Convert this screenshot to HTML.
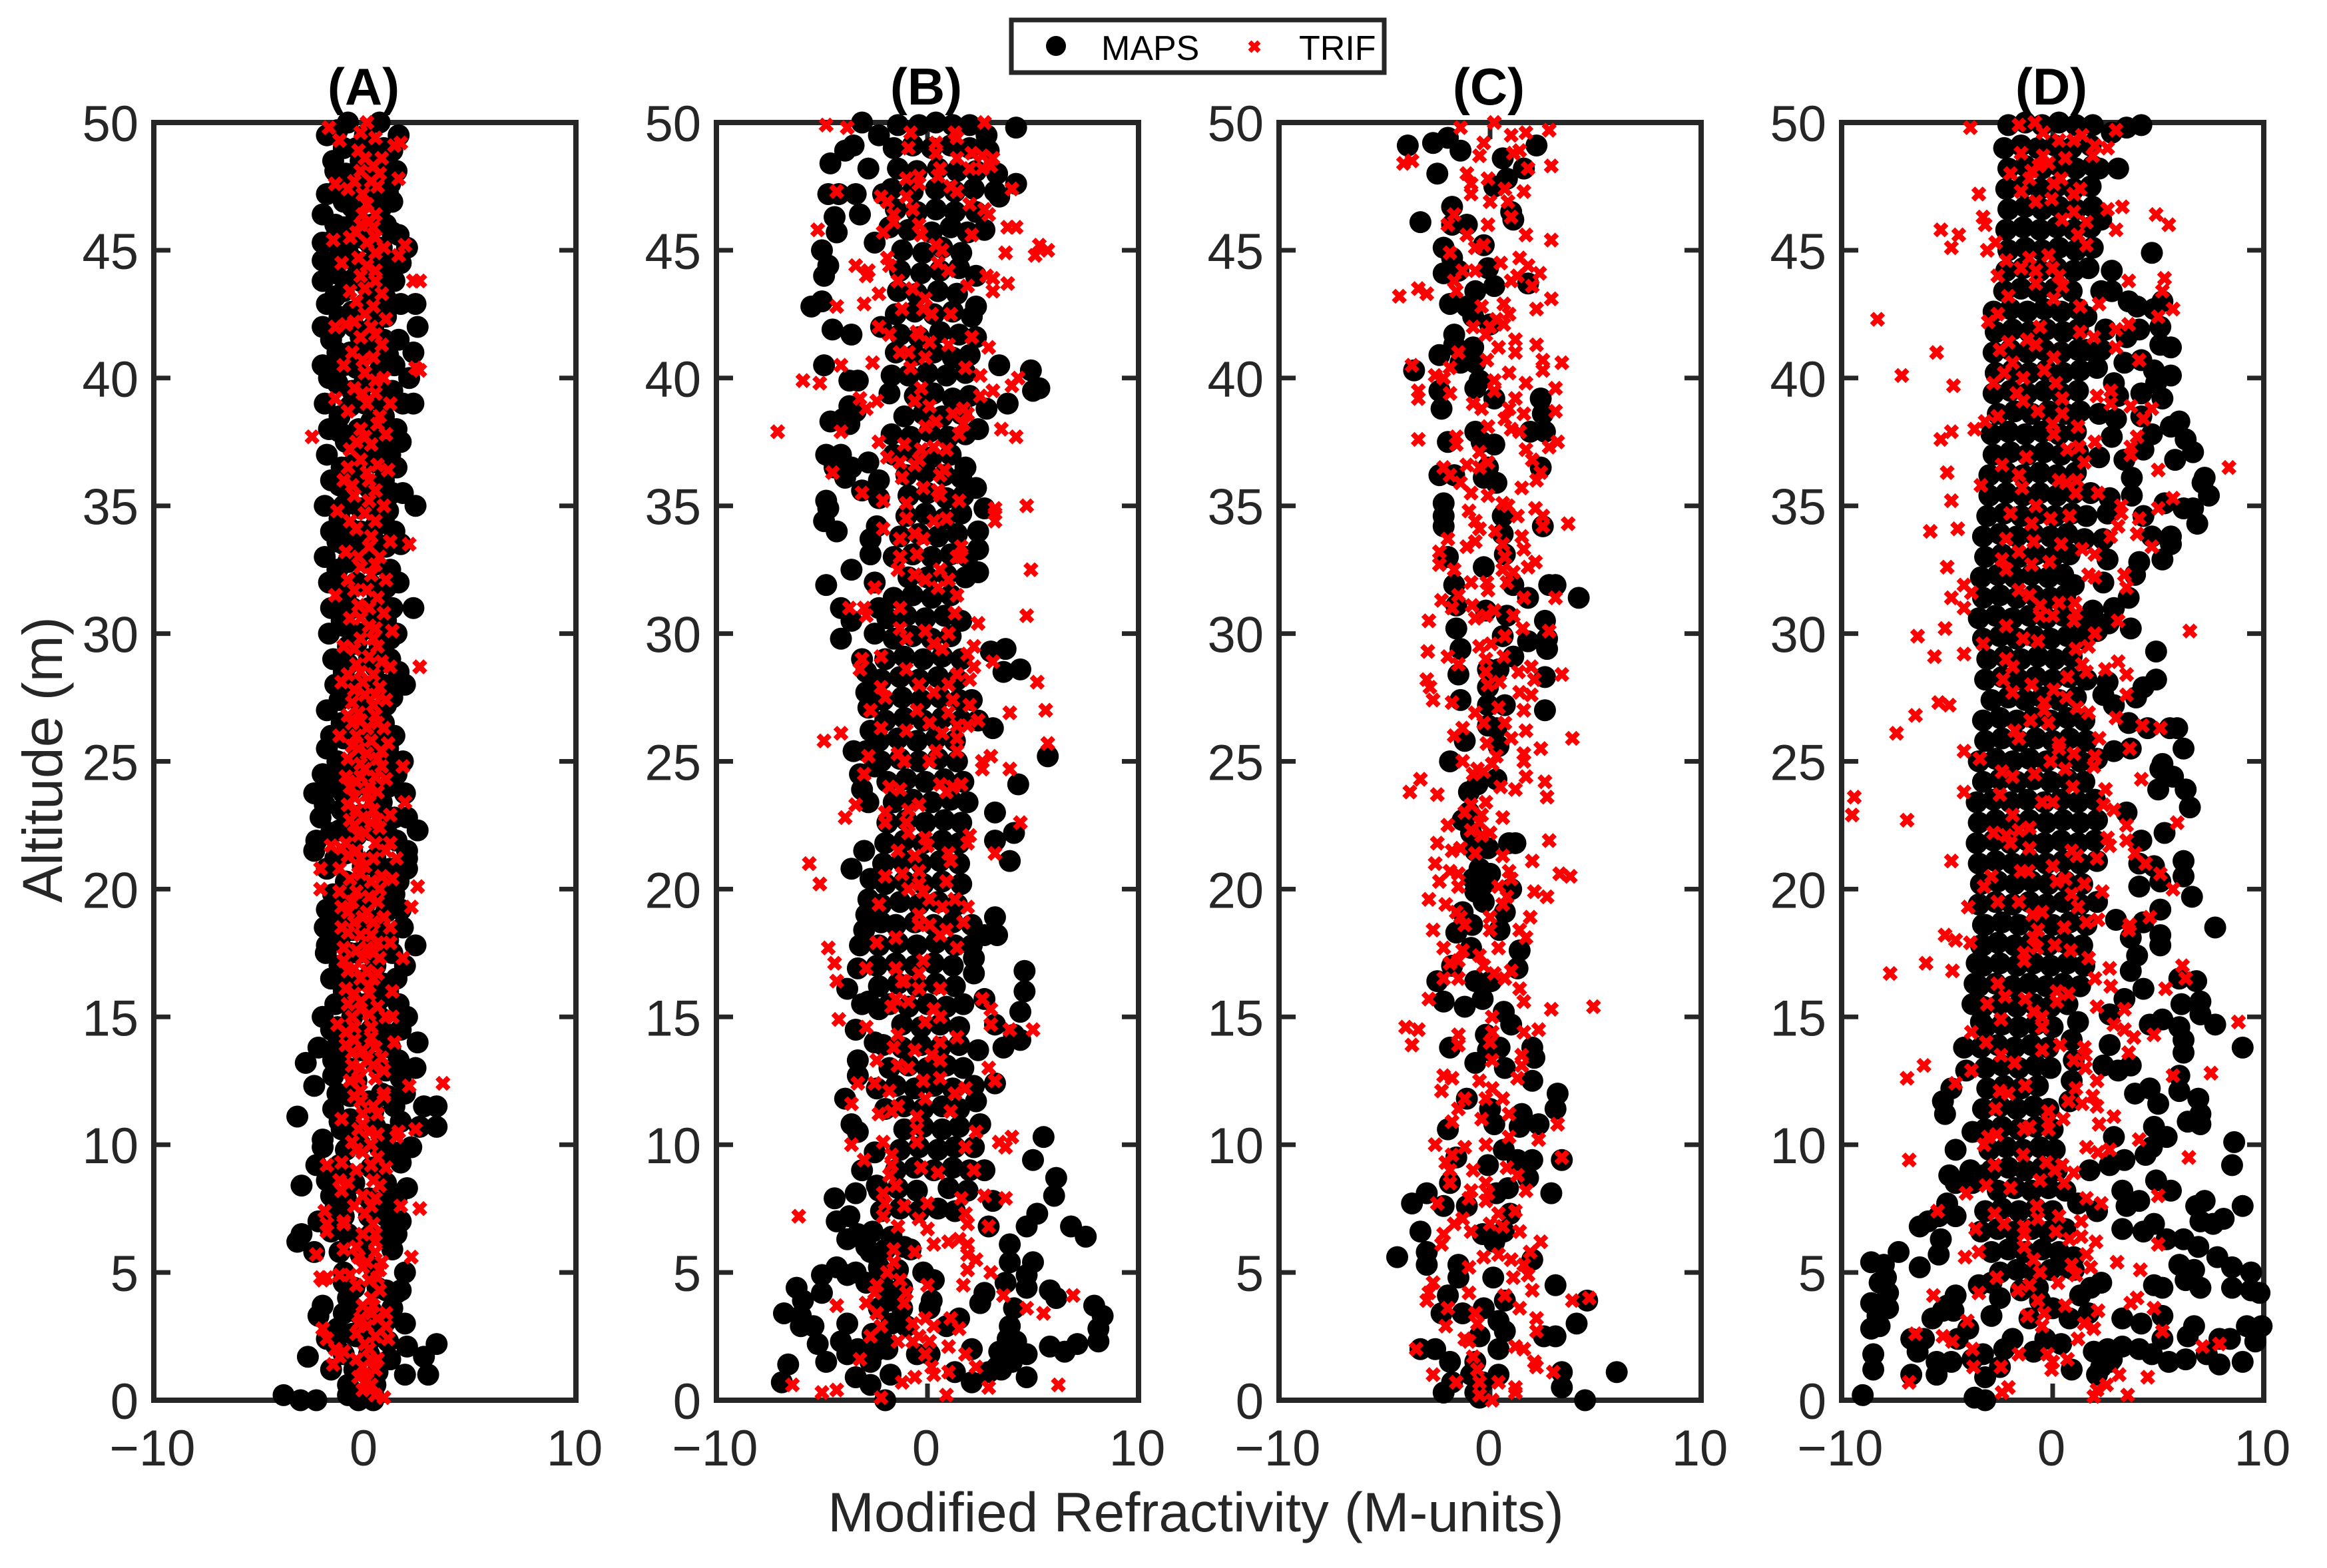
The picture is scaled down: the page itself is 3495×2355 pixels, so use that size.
<!DOCTYPE html>
<html lang="en">
<head>
<meta charset="utf-8">
<title>Modified Refractivity vs Altitude</title>
<style>
html,body{margin:0;padding:0;background:#fff;}
svg{display:block;font-family:"Liberation Sans",Arial,sans-serif;}
</style>
</head>
<body>
<svg id="chart" xmlns="http://www.w3.org/2000/svg" width="3495" height="2355" viewBox="0 0 3495 2355">
<defs><clipPath id="title-clip"><rect x="0" y="94" width="3495" height="100"/></clipPath></defs>
<rect x="0" y="0" width="3495" height="2355" fill="#fff"/>
<g id="plots"></g>
<g clip-path="url(#title-clip)" font-size="78" font-weight="bold" fill="#000" text-anchor="middle">
<text x="546" y="157">(A)</text>
<text x="1391" y="157">(B)</text>
<text x="2236" y="157">(C)</text>
<text x="3081" y="157">(D)</text>
</g>
<text font-size="84" fill="#262626" text-anchor="middle" transform="translate(93,1141) rotate(-90)">Altitude (m)</text>
<text font-size="83.6" fill="#262626" text-anchor="middle" x="1796" y="2300">Modified Refractivity (M-units)</text>
<g>
<rect x="1519" y="30" width="560" height="79" fill="#fff" stroke="#262626" stroke-width="7"/>
<circle cx="1586" cy="69" r="15" fill="#000"/>
<text x="1654" y="90" font-size="52" fill="#000">MAPS</text>
<path d="M1877,63L1891,77M1877,77L1891,63" stroke="#f00" stroke-width="7" fill="none"/>
<text x="1951" y="90" font-size="52" fill="#000">TRIF</text>
</g>
</svg>
<script>
// Each series is a flat list of readings: refractivity, altitude, refractivity, altitude, ...
const xTickValues=[-10,0,10];
const xTickLabels=["\u221210","0","10"];
const yTickValues=[0,5,10,15,20,25,30,35,40,45,50];
const yTickLabels=["0","5","10","15","20","25","30","35","40","45","50"];

const mapsA=[-0.8,50,0.7,50,-1.8,49.5,0,49.5,1.6,49.5,-1,49,0.9,49,-1.5,48.5,-0.2,48.5,0.7,48.5,-1.4,48.1,1.5,48.1,-0.8,47.6,0.4,47.6,1.2,47.6,-1.8,47.2,-0.3,47.2,1.1,47.2,-1,46.9,0.5,46.9,1.3,46.9,-2,46.4,-0.4,46.4,-1.4,46,0.3,46,1,46,-0.7,45.7,1.3,45.7,-2,45.3,0.2,45.3,-1.2,45.1,0.8,45.1,2,45.1,-2,44.6,-0.5,44.6,1.1,44.6,0.3,44.5,1.7,44.5,-1.4,44.1,0.9,44.1,-2,43.8,-0.2,43.8,1.4,43.8,-1,43.4,0.4,43.4,-1.8,42.9,0,42.9,1.7,42.9,2.4,42.9,-1.2,42.4,1,42.4,-2,42,-0.5,42,0.4,42,2.5,42,-1.6,41.5,0.9,41.5,1.6,41.5,-0.7,41,0.2,41,2.3,41,-2,40.5,-1,40.5,1.4,40.5,-1.7,40,0.5,40,2.1,40,-0.6,39.5,1.3,39.5,-1.9,39,0,39,1.8,39,2.3,39,-1.2,38.5,0.9,38.5,-1.7,38,-0.3,38,1.5,38,-0.9,37.5,0.5,37.5,1.7,37.5,-1.8,37,0.2,37,1.2,37,-1.1,36.5,1.5,36.5,-1.6,36,-0.3,36,0.9,36,-0.8,35.5,1.3,35.5,1.8,35.5,-1.9,35,0.3,35,2.4,35,-1.2,34.5,0.9,34.5,-1.6,34,-0.2,34,1.4,34,-1,33.5,0.6,33.5,1.7,33.5,-1.9,33,0.1,33,-1.3,32.5,1.2,32.5,-1.7,32,-0.4,32,1.6,32,-0.9,31.5,0.6,31.5,-1.6,31,0.2,31,1.3,31,2.3,31,-1.1,30.5,1,30.5,-1.7,30,-0.3,30,1.5,30,-0.8,29.5,0.7,29.5,-1.5,29,0.2,29,1.2,29,-1,28.5,1.6,28.5,-1.4,28,-0.2,28,0.9,28,1.9,28,-0.7,27.5,1.3,27.5,-1.8,27,0.3,27,-1.1,26.5,0.9,26.5,-1.6,26,-0.3,26,1.4,26,-1.8,25.5,0.4,25.5,1.1,25.5,-1.3,25,1.8,25,-2,24.5,-0.5,24.5,1.5,24.5,-1.6,24,0.2,24,1.1,24,-2.4,23.75,-1,23.75,1.9,23.75,-1.9,23.3,0.5,23.3,-2.1,22.8,-0.8,22.8,1.4,22.8,2,22.8,-1.2,22.3,0.3,22.3,2.5,22.3,-2.3,21.9,0.9,21.9,1.5,21.9,-2.4,21.5,-0.6,21.5,2,21.5,-1.4,21.2,0.5,21.2,2,21.2,-1.8,20.8,1.2,20.8,2,20.8,-0.9,20.3,1.6,20.3,-1.5,19.8,0.3,19.8,1.4,19.8,-1.8,19.2,-0.4,19.2,1.7,19.2,-1.3,18.8,0.7,18.8,-1.9,18.5,0,18.5,1.8,18.5,-1.2,18,1.1,18,-1.8,17.8,0.2,17.8,2.4,17.8,-1.85,17.5,-0.7,17.5,1.3,17.5,-1.2,17,0.5,17,1.9,17,-1.6,16.5,0.1,16.5,1.5,16.5,-1,16,1.1,16,-1.4,15.5,0,15.5,1.6,15.5,-2,15,-0.6,15,0.7,15,2,15,-1.6,14.5,0.3,14.5,1.7,14.5,-2.2,13.8,-1,13.8,1.2,13.8,2.5,14,-2.8,13.2,-1.5,13.3,0.5,13.2,2.4,13,1.6,13.3,-2.4,12.3,-1.5,12.7,-0.4,12.5,1.7,12.6,-1.3,12,0.8,12,1.9,12,-3.2,11.1,-1.5,11.4,0.4,11.3,1.4,11.5,2.8,11.5,3.4,11.5,-1.2,10.9,1.7,10.9,2.6,10.7,3.4,10.7,-2,10.2,-0.5,10.4,1,10.4,2.2,9.9,-2,9.9,-0.9,9.8,1.4,9.7,-2.3,9.2,-1.2,9.2,0.3,9.1,1.7,9.3,-3,8.4,-1.8,8.6,-0.5,8.5,1,8.5,2,8.3,-1.6,8,0.2,7.9,1.5,7.9,-2.2,7,-1,7.2,1,7.2,1.7,7,-3.2,6.2,-3,6.5,-1.6,6.6,0.3,6.5,1.5,6.5,-2.4,5.8,-1.2,5.8,1.3,5.9,-0.2,5.7,-1,5,0.4,5.2,1.9,5,-1,4.6,1.7,4.3,0.6,4.4,-0.8,4,1.5,4.2,-2,3.7,-1,3.4,0.3,3.5,1.3,3.6,-2.2,3.3,-1.3,2.8,0.5,2.9,1.9,3,-1.8,2.4,-0.4,2.5,1.1,2.3,2,2.1,3.4,2.2,-2.7,1.7,-1,1.8,0.2,1.8,2.8,1.7,1.2,1.6,-1.6,1.2,-0.5,1.2,0.6,1.1,1.9,1,3,1,-0.8,0.6,0.5,0.6,-3.85,0.2,-0.8,0.2,0.4,0.2,-3.05,0,-2.3,0,-0.3,0,0.4,0,-1.3,49.7,-0.4,49,0.3,48.8,1.3,48.9,-0.9,48,0.1,47.9,0.9,47.8,-1.2,47.5,-0.6,46.7,0.8,46.7,-1,45.9,-0.2,45.5,1.6,45.6,-1.5,45.4,-0.8,44.9,0.6,44.8,-1.5,44.4,-0.5,43.9,0.5,43.7,-1.4,43.2,1,43.1,-0.6,42.6,0.7,42.4,-1.4,41.9,-0.2,41.6,0.6,41.3,-1.3,41,1.1,40.9,-0.4,40.4,0.7,40.3,-1.3,39.8,-0.1,39.7,1,39.5,-0.7,38.9,0.7,39.1,-1.2,37.9,0.3,38.3,1,38.1,-0.4,37.4,1,37.2,-0.6,36.6,0.5,36.7,-1.2,35.8,0.2,35.7,1,35.5,-1,35,-0.2,34.9,1.1,34.8,-0.7,34.1,0.5,34.2,-1.3,33.6,-0.2,33.3,1,33.4,-0.8,32.8,0.5,32.7,-1.1,31.9,0.3,31.9,1,31.8,-0.6,31,0.9,30.8,-1,30.3,0.3,30.2,-0.4,29.6,1.2,29.8,-0.8,28.8,0.5,28.7,-1,28.1,0.4,27.9,-1.2,27.4,-0.2,27.3,1,27.2,-0.5,26.6,0.4,26.4,-1,25.9,0.7,25.9,-0.3,25.2,1,24.9,-1.1,24.6,0.4,24.7,-0.6,23.9,0.8,23.4,-1.1,23.1,-0.2,22.9,0.9,22.7,-1.6,22.2,-0.4,22.1,1.1,22.1,-0.9,21.4,-0.1,20.9,0.7,20.7,-0.4,20.2,0.9,19.9,-1,19.6,0,19.4,1,19.1,-0.6,18.4,0.6,18.2,-0.3,17.5,0.6,17.6,-1.2,16.4,-0.4,16.4,0.9,16.3,-0.6,15.7,0.7,15.7,-1.3,14.6,-0.4,14.3,0.9,14.4,-1.3,13.9,-0.2,13.7,-0.8,13,1,12.9,-0.7,11.9,0.2,11.7,1.1,11.9,-0.7,11,0.5,10.7,-1.1,10.6,-0.2,10,0.7,9.9,-0.9,8.9,0.7,9.2,-0.9,7.9,0.9,7.8,-1.4,7.5,0.2,7.2,-0.8,6.5,-0.2,6.3,0.9,6.4,-0.5,4.4,1,4.3,-0.3,3.4,1,3.1,-0.6,2.6,0.3,2.4,-1.4,2.2];
const trifA=[-1.7,49.8,0.1,50,-0.2,49.6,0.5,49.4,-1.2,49.3,1.7,49.2,1.4,49.1,-0.3,48.9,0,48.6,0.8,48.6,0.4,48.3,-0.2,48.1,0.7,48,-0.5,47.7,0.3,47.7,1.6,47.8,-1.4,47.6,-0.8,47.4,0.6,47.5,-0.1,47.2,0.1,46.8,-0.1,46.4,0.5,46.4,-0.2,46,0.4,45.9,-0.7,45.5,0.5,45.5,-1.5,45.4,1.9,45.2,0.9,45.1,0.5,44.9,1.6,44.8,-1.1,44.5,0.1,44.4,-0.2,44,0.5,43.8,2.3,43.8,2.6,43.8,-0.7,43.4,0.8,43.3,-0.4,43,0.4,42.8,0,42.5,1,42.3,-1.4,42,-0.9,42.1,0.3,42,-0.2,41.6,0.8,41.3,-0.6,41,0.4,40.8,2.4,40.4,-1,40.5,0,40.2,2.6,40.3,0.9,40,-0.5,39.6,0.5,39.4,-1.4,39.2,0.1,39,1.2,39,-0.8,38.7,0.7,38.5,-2.5,37.7,-0.2,38,1,37.8,0.3,37.4,-0.7,37.2,-0.2,36.8,0.6,36.6,1.1,36.4,-1,36,0.2,36,0.5,35.6,-0.5,35.4,0.9,35,-1.3,34.8,0,34.7,0.5,34.4,-0.4,34.1,2.1,33.5,1.2,33.6,0.2,33.4,-0.9,33.2,0.7,33,-0.2,32.6,0.3,32.3,-0.8,32.1,1,32.1,0.1,31.7,-1.4,31.5,0.6,31.4,-0.3,31.1,0.9,30.8,-0.7,30.6,0.2,30.3,1.3,30.1,-0.2,29.8,0.6,29.5,-1,29.5,0.2,29.1,2.6,28.7,1.2,28.7,-0.4,28.8,-0.8,28.4,0.4,28.4,-1.1,28.1,-0.1,28.1,0.7,27.9,1,27.4,0,27.6,-0.6,27.3,0.4,27.2,-0.3,26.9,0.5,26.8,-0.6,26.5,0.1,26.3,0.9,26.3,-1.2,26,-0.4,26,0.3,25.8,1.1,25.7,-0.3,25.5,0.1,25.3,-0.8,25.1,0.6,25.1,-0.2,24.9,0.8,24.8,1.8,24.8,-0.9,24.4,-0.2,24.4,0.5,24.4,1,24.3,-0.7,24,0.2,24,-0.5,23.6,0.1,23.7,1.9,23.4,-0.4,23.1,0.4,23.1,1.2,22.9,-0.1,22.8,0.3,22.6,-0.5,22.5,0.7,22.4,0,22.2,-1.6,21.7,-0.9,21.8,1.2,21.8,-0.8,21.3,1,21.5,-0.2,21.2,0,20.9,1.5,21.2,-1.2,20.8,-0.3,20.9,-2.1,20.8,0.8,20.5,-0.2,20.6,1.3,20.4,-2.1,20,2.5,20.1,-1.2,19.9,-0.4,19.9,0.2,19.7,-1.1,19.3,2.2,19.3,-0.8,19.1,0.1,19.1,0.9,18.9,-0.5,18.7,0.4,18.7,-1.1,18.5,1.2,18.5,-0.2,18.2,0.3,18.2,1.2,17.9,-1,17.7,0.1,17.7,1.8,17.3,-1,17.2,-0.1,17.3,0.7,17.3,-0.8,16.8,0.1,16.8,-0.2,16.5,0.4,16.5,-0.9,16.1,1.3,16,-0.5,15.9,0.2,15.9,-0.8,15.5,-0.2,15.6,-0.6,15,0.2,15.1,1,15,1.3,15,-1.3,14.7,-0.5,14.6,0.3,14.6,-0.5,14.1,1.4,14,-0.6,13.6,0.1,13.3,0.8,13.4,-0.6,13.1,-0.2,13,0.4,13.1,0.9,12.9,-0.7,12.5,0.5,12.6,2.1,12.3,3.7,12.4,-0.2,12.1,0.9,12,-0.2,11.7,0.9,11.9,-0.1,11.2,0.6,11.2,-1.1,11,-0.1,10.8,0.2,10.5,2.4,10.6,1.6,10.5,-0.6,10.1,0.3,10,1.5,10.3,-0.1,9.7,0.6,9.5,-1.8,9.2,-1.1,9.3,1,9.1,-1.2,8.6,-1.1,8.2,-0.8,8.5,0.7,8.4,0.5,7.9,1.7,7.6,2.6,7.5,-1.9,7.4,-1.8,6.9,-1,7,0,7.3,-1,6.9,0.4,6.9,-0.1,6.5,-1.8,6.6,0.5,6.2,-1,5.9,0.5,5.8,-0.3,5.6,-2.3,5.7,2.2,5.6,0.8,5.4,-0.1,5.2,0.7,5.1,-2.1,4.8,-1.8,4.8,-0.4,4.5,0.7,4.3,-2,4.7,-1.2,4.9,0.6,4.8,0.3,4,-0.1,3.7,-0.2,3.2,0.3,3.4,1,3.4,-0.3,3,0.6,3.2,1,2.9,-2,2.8,-0.4,2.6,0.5,2.5,1.1,2.4,-1.8,2.4,-1.4,2,-1,1.9,0,2.2,-1.2,1.7,0.6,1.6,-1.5,1.4,-0.1,1.3,0.5,1.2,0.1,0.8,-0.1,0.4,0.5,0.2,0.9,0.1,0.2,46.1,-0.4,45.7,0.1,45.3,-0.3,44.7,0.5,44.2,0,43.5,-0.5,42.2,0.5,41.7,-0.1,40.7,0.5,39.9,-0.1,39.4,0.6,38.2,0,37.7,-0.4,37.5,-0.8,36.5,0.1,36.3,-0.6,35.8,0.2,35.2,-0.7,34.4,0.3,33.8,-0.3,33,0.5,32.7,-0.5,31.7,0.2,31,-0.2,30.6,0.5,30.2,-0.5,29.4,0.4,29.8,-0.2,28.5,0.8,28.9,-0.5,27.8,0.5,27.6,-0.8,26.8,-0.2,26.6,0.6,26.5,-0.6,25.6,0.8,25.4,0,24.7,-0.4,24.2,0.6,23.8,-0.8,23.3,0.2,23.4,-0.7,22.7,0.6,22.7,-0.3,22.1,0.5,21.8,-1.1,21.6,-0.4,21.5,0.4,21.2,-0.7,20.4,0.3,20.3,0.7,20,-0.6,19.5,0.6,19.5,-0.1,18.9,-0.8,18.3,0.6,17.9,-0.4,17.6,0.4,17.5,-0.5,16.9,0.6,16.7,0.2,16.2,-0.2,15.3,0.6,15.4,-0.9,14.4,0.3,14.2,-0.9,13.9,-0.1,13.7,0.5,13.8,-0.3,12.6,-0.5,11.9,0.4,11.5,-0.3,10.6,0.6,10.4,-0.4,9.8,0.3,9.2,-0.4,9,0.4,8.6,-0.1,8,0.3,7.6,-0.5,7.6,0.5,6.5,-0.4,6,0.1,5.4,-0.7,4.9,0.2,4.7,0.4,3.7,0.1,2.9,0.2,2,0.3,1.6,-0.4,1.6,0,1,0.3,0.6,-0.3,0.9];

const mapsB=[4.2,49.8,-3.1,50,-2.3,49.5,-3.5,49.1,-3.9,48.9,-4.6,48.4,-2.8,48.2,-4.7,47.2,-4.2,47.2,-3.4,47.2,-2.1,47.2,4.2,47.6,3.4,47.1,-4.4,46.3,-3.2,46.4,-4.3,45.7,-2.5,45.3,2.7,45.8,-5,45,-4.7,44.4,-4.9,44,-5.5,42.8,-5,43,-4.5,41.9,-3.6,41.7,-2.2,42,2.3,42.8,2.1,42.4,2.3,41.6,-4.9,40.5,3.4,40.5,4.9,40.3,5.3,39.6,5,39.5,3.8,39,-3.7,39.9,-3.3,39.9,-1.8,39.4,-1.7,40.1,-3.7,38.9,-3.4,38.7,-4.6,38.3,-4,38.4,-3.7,38.2,2.8,38.8,2.4,38,-4.8,37,-4.1,37,-4.4,36.5,-3.6,36.5,-3.9,36.1,-2.8,36.7,-3.1,35.6,-2.3,36,-2.3,35.3,1.8,36.5,-4.8,35.2,-4.7,34.9,-4.9,34.4,-4.3,34,2.7,34.9,2.3,35.7,-2.4,34.2,-2.7,33.7,-2.7,33.1,2.4,34,2.4,33.3,2.4,32.4,-3.6,32.5,-4.8,31.9,-2.5,32,-4.1,31,-3.6,30.5,-4.1,29.8,-2.3,31,-2.5,30,3,29.3,3.7,29.4,3.6,28.5,4.4,28.6,-3.1,29,-2.9,28.5,-2.9,27.7,-2.8,27.1,2.1,27.4,3.1,26.3,2.4,26.6,-2.7,26.2,-3.5,25.4,5.7,25.2,-2.9,25.4,-3.2,24.5,-2.5,24.8,-3.1,23.9,-2.8,23.4,4.3,24.1,3.2,23,4.1,22.2,3.2,21.9,3.9,21.1,-3,21.5,-3.6,20.8,-2.7,20.4,-2.8,19.6,-2.9,19,-2.2,18.7,-3,18.4,-3.2,17.8,-3.3,16.9,3.2,18.9,3.3,18.2,2.7,18.2,4.6,16.8,4.6,16,4.4,15.2,2.2,17.3,2.2,16.7,2.7,15.7,3.2,14.7,-3.8,16.1,-3.1,15.5,-2.3,15.3,-3.4,14.5,-2.5,14,-3.3,13.3,-3.3,12.7,4.1,14.3,4.4,14.1,3.6,13.8,2.4,13.7,3.2,12.4,2.2,12.3,2.3,11.7,-3.9,11.8,-3.6,10.8,-3.3,10.5,2.5,10.8,5.5,10.3,5,9.4,2.2,9.9,-2.5,9.7,-3.1,9,2.7,9,6.1,8.7,6,8,-2.4,8.4,-3.4,8.1,-4.4,7.9,3.1,7.8,5.2,7.3,4.7,6.8,6.8,6.8,7.5,6.4,-4.3,7,-3.7,7.2,-3.8,6.3,-3.3,6.5,-2.6,6.6,2.9,6.8,3.9,6.1,3.9,5.4,5,5.4,4.7,4.9,4.7,4.4,-2.7,5.8,-4.3,5.2,-5,4.9,-6.2,4.4,-5,4.2,-5.9,3.9,-6.8,3.4,-6,3.3,-6,2.9,-5.4,2.9,-5.2,2.2,-3.8,3,-4.1,2.3,-3.8,4.9,-3.4,5,3.7,4.6,2.7,4.2,2.5,3.8,4.1,3.6,5.8,4.3,6.1,4,7.9,3.7,8.3,3.3,8.1,2.8,8.1,2.3,7.1,2.2,6.5,1.9,5.8,2.1,3.9,2.9,4.2,2.3,3.4,1.9,4.2,1.9,4.7,1.8,4.7,0.9,3.5,1.2,2.9,1.1,2.1,0.7,1.3,1.1,2.1,2,1.5,3.2,0.9,2.9,-6.6,1.4,-6.9,0.7,-4.8,1.5,-3.8,1.8,-3.3,2,-2.7,1.5,-3.4,0.9,-2.7,0.6,-1.75,1,-2,0,-2.1,2.3,-2.6,2.6,-0.5,1.8,0.1,1.8,-0.2,5,0.3,4.7,0.2,3.9,0.1,3.6,-0.8,5.9,-1.2,3.6,-1.8,3.9,-2.3,3.6,-1.7,6.4,3.6,1.6,4,1.5,3.8,2.4,3.3,1.3,-1.4,49.9,-0.4,49.9,0.4,50,1.2,49.9,2,49.9,2.8,49.5,-1.6,49,-0.7,49.1,0.2,49,1.1,49.1,2,49,2.9,48.9,-1.4,48.2,-0.5,48.1,0.5,48.2,1.4,48.1,2.3,48.1,3.3,48,-1.7,47.4,-0.7,47.3,0.4,47.4,1.3,47.3,2.2,47.4,3.2,47.3,-1.5,46.6,-0.5,46.5,0.4,46.6,1.3,46.5,2.3,46.5,-1.8,45.9,-0.9,45.8,0.2,45.7,1.1,45.9,1.9,45.7,-1.2,45,-0.2,44.9,0.7,45.1,1.6,44.9,-1.3,44.2,-0.3,44.1,0.6,44.2,1.5,44.3,2.3,44,-1.4,43.4,-0.5,43.3,0.5,43.4,1.4,43.3,-1.5,42.5,-0.6,42.6,0.3,42.5,1.2,42.6,-1.3,41.7,-0.4,41.6,0.6,41.8,1.5,41.7,-1.5,41,-0.6,40.9,0.3,41,1.2,40.8,2,40.9,-0.9,40.1,0,40.2,0.9,40.1,1.8,40.2,-0.6,39.3,0.3,39.4,1.2,39.2,2,39.3,-1.1,38.5,-0.2,38.6,0.7,38.5,1.6,38.6,-1.7,37.8,-0.8,37.7,0.1,37.9,1,37.7,1.8,37.8,-1.6,37,-0.7,37.1,0.2,36.9,1.1,37,-1,36.2,-0.1,36.3,0.8,36.2,1.6,36.1,-0.9,35.4,0,35.5,0.9,35.3,1.7,35.4,-1,34.6,-0.1,34.7,0.8,34.5,1.6,34.7,-1.3,33.8,-0.4,33.9,0.5,33.8,1.4,33.9,-1.6,33,-0.7,33.1,0.2,33,1.1,33.1,1.9,33,-0.9,32.2,0,32.2,0.9,32.3,1.8,32.2,-1.6,31.4,-0.7,31.5,0.2,31.4,1.1,31.5,-1.9,30.6,-1,30.7,-0.1,30.6,0.8,30.7,1.6,30.5,-1.6,29.8,-0.7,29.9,0.2,29.8,1.1,29.9,-2,29,-1.1,29.1,-0.2,29,0.7,29.1,1.6,29,-2.2,28.2,-1.3,28.3,-0.4,28.2,0.5,28.3,1.4,28.2,-2.1,27.4,-1.2,27.5,-0.3,27.4,0.6,27.5,1.5,27.4,-2,26.6,-1.1,26.7,-0.2,26.6,0.7,26.7,1.6,26.6,-2.3,25.8,-1.4,25.9,-0.5,25.8,0.4,25.9,1.3,25.8,-2.2,25,-1.3,25.1,-0.4,25,0.5,25.1,1.4,25,-1.9,24.2,-1,24.3,-0.1,24.2,0.8,24.3,1.7,24.2,-1.6,23.4,-0.7,23.5,0.2,23.4,1.1,23.5,1.9,23.4,-1.9,22.6,-1,22.7,-0.1,22.6,0.8,22.7,1.6,22.6,-2,21.8,-1.1,21.9,-0.2,21.8,0.7,21.9,1.5,21.8,-2.1,21,-1.2,21.1,-0.3,21,0.6,21.1,1.5,21,-2,20.2,-1.1,20.3,-0.2,20.2,0.7,20.3,1.6,20.2,-2.2,19.4,-1.3,19.5,-0.4,19.4,0.5,19.5,1.4,19.4,-1.5,18.6,-0.6,18.7,0.3,18.6,1.2,18.7,2.1,18.6,-2.3,17.8,-1.4,17.9,-0.5,17.8,0.4,17.9,1.3,17.8,2.1,17.8,-2.4,17,-1.5,17.1,-0.6,17,0.3,17.1,1.2,17,-2.3,16.2,-1.4,16.3,-0.5,16.2,0.4,16.3,1.3,16.2,-2.8,15.6,-1.8,15.5,-0.9,15.4,0,15.5,0.9,15.4,1.7,15.5,-1.2,14.7,-0.3,14.6,0.6,14.7,1.5,14.6,-2.1,13.9,-1.2,13.8,-0.3,13.9,0.6,13.8,1.5,13.9,-1.8,13,-0.9,13.1,0,13,0.9,13.1,1.7,13,-2.4,12.2,-1.5,12.3,-0.6,12.2,0.3,12.3,1.2,12.2,-2,11.4,-1.1,11.5,-0.2,11.4,0.7,11.5,1.5,11.4,-1.1,10.6,-0.2,10.7,0.7,10.6,1.5,10.7,-1.3,9.8,-0.4,9.9,0.5,9.8,1.3,9.9,-1.5,9,-0.6,9.1,0.3,9,1.2,9.1,2,9,-2.3,8.2,-1.4,8.3,-0.5,8.2,1,8.3,1.9,8.2,-2.2,7.4,-1.3,7.5,-0.4,7.4,0.5,7.5,1.3,7.4,-2.9,6,-2,5.9,-1.1,6,-2.3,5.2,-1.4,5.1,-2.1,4.5,-1.2,4.4,-2.9,4.6,-1.7,3,-1,2.9,-2.5,1.9,-1.9,2];
const trifB=[-4.8,49.9,-3.8,49.8,-0.8,49.6,1.3,49.6,2.7,50,0.4,49.2,0.4,48.8,1.4,49.4,-0.9,49,1.4,48.6,2.1,48.8,2.6,48.7,3.1,48.6,2.6,48.2,3,48.3,2,48.2,0.6,48.2,0.5,47.9,-1,47.8,-0.4,47.9,-0.4,47.6,1.1,47.5,1.4,47.3,4,47.4,-4.3,47.3,-2.2,47.1,-1.9,46.9,-1,47.1,2,46.8,2.7,46.6,2.9,46.4,-0.7,46.6,-1.6,46.4,-1.6,46.1,-0.4,46,-5.2,45.8,3.8,45.9,4.2,45.9,-2.1,45.7,-0.3,45.6,2.1,45.6,0.4,45.2,0.7,45,5.3,45.2,5.7,45,5.1,44.8,3.7,44.9,-1.9,44.7,-1.8,44.4,0.5,44.5,-3.4,44.4,-2.8,44.2,-2.9,44,1,44.2,2.8,44,3.1,43.9,-1.4,43.8,3.8,43.7,1.9,43.6,3.1,43.4,-0.7,43.5,-2.3,43.3,-0.1,43.1,-3,42.9,-4.3,42.8,-0.2,42.7,-1.2,42.7,0.2,42.5,1.1,42.5,-2.3,42,-1.8,41.7,-0.5,41.8,-0.4,41.7,0.1,41.4,1,41.3,2.1,41.6,2.9,41.2,-1.3,41,-0.9,41,-0.1,40.8,-4.1,40.5,-2.6,40.6,-0.8,40.4,1.8,40.4,-5.9,39.9,-5.1,39.8,2.5,40.1,4.3,40,4,39.7,-0.3,39.6,2.5,39.3,3.1,39.5,-3.2,39.2,-2.4,39.1,-0.6,39.1,-2.9,38.8,0.1,38.9,1.7,38.8,1.9,38.6,1.2,38.6,0.4,38.3,1.7,38.2,-0.1,38.1,-7.1,37.9,-4.1,37.9,3.5,38,4.2,37.7,1.5,37.8,-2.3,37.5,-1.1,37.4,0.3,37.3,-0.3,37.2,0.9,37.2,-1.9,36.9,-1.3,36.7,-0.4,36.8,-0.6,36.6,-4.5,36.3,-1.2,36.1,0.6,36.2,0.8,36.4,-0.2,35.7,0.5,35.6,0.6,35.4,1.5,35.2,-3.1,35.5,-2.1,35.2,-1,35.1,4.7,35,3.2,34.9,0.9,34.5,3.2,34.4,-1,34.5,0.3,34.4,-2.1,34.1,-1.3,33.7,-0.6,33.9,-0.2,33.7,3.2,34.7,1.6,33.4,-1.3,33,-0.5,33.1,1.4,33,1.6,33,0.6,32.5,-1.4,32.5,-0.6,32.3,-0.1,32.1,4.9,32.5,1,32.1,0.5,31.8,1.4,31.5,-2.5,31.8,-3.7,31,-2.9,30.7,-3,31,-1.3,31,1.3,30.8,4.7,30.7,2.4,30.4,-1.3,30.2,-0.1,30.1,1,30,-1,29.8,0.3,29.6,2.2,29.5,1.9,29.2,0.7,29.4,-3.1,29,-2.2,29.1,-3.2,28.6,3.1,28.9,2.2,28.7,1.4,28.4,-1,28.6,2,28.2,1,28,5.2,28.1,-2.2,27.9,-0.4,28,0.3,27.7,-2,27.5,1.2,27.4,2,27.2,-2.7,27,-0.5,27,1,26.9,5.6,27,3.9,26.9,0.1,26.5,1.4,26.4,2.4,26.6,1.9,26.4,-4.1,26.1,-2.2,26.3,-1,26.2,0.7,26.1,1.4,25.9,-4.9,25.8,5.7,25.7,-2.8,25.2,-1.4,25.3,-1.1,25,0.4,25.4,1.4,25.4,3,25.2,0.1,25,2.6,25,3.9,24.7,-3,24.5,-1.8,24,-1.3,23.9,0.6,24.1,1.2,24,0.9,23.8,1.6,24.1,2.6,24.7,-3.4,23.3,-0.4,23.3,-0.9,23.1,-3.9,22.8,-2,23,-2,22.6,-1,22.6,-0.9,22.2,-0.1,22,0,21.7,2,22.1,1.9,21.8,4.4,22.6,3.2,21.4,-1.4,21.5,-0.6,21.3,1,21.4,1.1,21.1,-5.6,21,-5.1,20.2,-1.2,20.6,-0.4,20.7,-0.4,20.2,0.9,20.3,-2,20.5,-0.9,20,-0.2,19.9,0.1,19.6,0.7,19.3,1.3,19.6,1.9,19.3,-2.3,19.4,-0.4,19,0.1,18.6,-0.4,18.6,-2.4,17.9,-1.5,18.1,0.6,18.2,1.4,17.7,0.9,18.4,1.7,18.7,-4.7,17.7,-4.4,17.1,-0.2,17.2,-0.4,16.7,-2.9,16.9,-1.5,16.9,-1.2,16.4,0.6,16.1,-1.1,16.4,-0.4,16.1,-4.3,16.4,-1.5,15.7,-1.7,15.4,-0.9,15.6,0.3,15.3,2.6,15.7,3,15.3,-4.2,14.9,-0.1,14.8,0.6,15,1.4,14.2,-2.9,14.6,-1.4,14.3,-1.6,13.8,-0.6,13.7,0.2,13.5,0.6,13.3,0.6,14,3.9,14.5,5,14.5,3,14.7,-2.4,13.3,-1.4,13.1,-0.9,13,2.9,13,3.2,12.5,-3.3,12.4,-2.5,12.4,0.6,12.6,-0.2,12.5,1.3,12,1.8,12.2,-1.8,12.1,-1.4,11.5,-0.1,11.8,-3.6,11.6,-2.3,11.2,-1.7,11.3,1.1,11.3,-0.5,11.1,-0.5,10.6,-0.5,10.1,2.3,10.5,4,10.3,3.4,10.1,-3.6,10,-2.1,10.1,-1.7,9.6,1.8,9.9,3.7,9.9,-1.7,9.2,-3,9.4,-0.3,9.1,0.5,8.9,-1.8,8.8,2.2,9,-1.5,8.4,-2.1,8.1,-2,7.7,-1.1,7.6,0,7.7,1.6,7.9,2.7,8,3.7,7.9,-6.1,7.2,-2.1,7.2,-1.4,6.8,-0.4,7.1,1.8,7.3,0,6.7,1.9,6.9,2.9,6.8,1,6.2,1.5,6.3,0.3,6.1,1.9,6.1,-1.6,5.9,-0.6,5.8,-1.6,5.4,1.9,5.7,2.3,5.5,1.9,5.1,-1.9,5,-2.4,4.5,-1.3,4.7,0,4.5,1.7,4.5,3,5,-2.5,4.2,-1,4.2,-4.3,3.7,-2.9,3.8,-1.1,3.8,-2.4,3.4,3.6,4.1,4.7,3.6,5.5,3.4,6.9,4.1,-2.2,2.9,-0.7,3,-0.1,3.2,1.1,3.2,1.5,2.8,-2.7,2.5,-0.7,2.3,-0.4,2.5,0.3,2.9,0.1,2.3,-1.4,2.3,1,2.1,1.8,1.8,-3.2,1.6,0.3,1,-0.1,1.8,1,1.1,2.3,1.3,2.9,0.5,-6.4,0.6,-5,0.3,-4.3,0.4,-2.2,0.1,-1.2,0.7,-0.6,0.9,0.2,1.3,0.9,0.2,6.2,0.6];

const mapsC=[-3.9,49.1,-2.7,49.2,-2,49.4,-1.4,48.9,2.2,49.1,0.6,48.6,1.6,48.2,-2.5,48,0.8,47.8,0.2,47.5,-1.8,46.7,-3.3,46.1,-1.8,46,-1.1,46,1,46.5,1.1,46.2,-2.2,45.1,-1.8,44.7,-0.3,45.2,-2.2,44.1,-1.5,44.2,-0.1,44.3,1.8,43.7,0.2,43.6,-0.7,43.4,-1.9,42.9,-1.1,42.8,0,42.1,-1.7,41.7,-0.8,42.4,-1.7,41.3,-2.4,40.9,-3.6,40.3,-1.4,40.6,-0.8,41.2,-0.7,40.6,-0.5,39.9,-0.7,39.6,-2.4,39.5,-2.3,38.8,0.2,39.2,2.4,39.2,2.5,38.6,2.6,37.9,1.9,37.9,-0.7,37.9,-2,37.5,-0.4,37.5,0.2,37.4,2.4,36.5,-2.4,36.2,-1.7,36.2,-0.1,36.5,-0.3,36.1,0.3,35.9,-2.2,35.1,-2.2,34.6,-2.2,34.2,0.6,34.6,2.5,34.2,0.6,33.9,-2,33,-0.3,32.6,0.7,33.1,-1.7,31.9,2.8,31.9,3.1,31.9,4.2,31.4,1.1,31.9,1.8,31.4,-1.6,31.1,-0.2,30.9,0.8,30.7,2.6,30.5,-1.6,30.2,1.8,29.7,2.7,29.8,2.7,29.4,-1.4,29.4,0.6,29.9,1.1,29.1,0.4,28.6,-0.1,28.6,-1.5,28.4,2.6,28.3,-0.1,27.9,-1.4,27.4,0.7,27.2,-0.1,27.2,2.6,27,-0.1,26.4,0.3,26.3,-1.2,25.8,0.4,25.6,-1.9,25,-0.6,24.1,0.3,24.3,-1,23.8,-1,23,-1.3,22.7,-0.9,22.2,0.9,21.8,1.2,21.8,-0.7,21.5,-0.1,21.6,-0.5,20.8,0,20.6,-0.8,20.4,-0.3,20.2,-0.7,19.9,1,20,-0.3,19.5,-1.3,19.1,0.7,19.1,-0.85,18.6,-1.6,18.3,0.45,18.4,1.4,17.6,-0.9,17.7,-1.8,17,1.3,16.9,-2.5,16.4,-0.7,16.4,0.05,16.4,-2.2,15.6,-1.2,15.4,-0.35,15.7,0.65,15.2,1,14.7,-0.2,14.3,-1.9,13.8,0.45,13.8,2,13.8,2.1,13.4,-0.7,13.2,-0.1,13.7,0.7,13,2,12.5,3.2,12,3.1,11.4,-1.1,11.8,-2,10.6,1.5,11.2,2.3,10.8,1.4,10.7,0,11.4,0.2,10.8,-1.6,9.5,0.65,9.8,1.3,9.4,2,9.4,3.4,9.4,-0.1,9.2,1.8,8.7,-1.9,8.5,-3,8.1,-3.7,7.7,2.9,8.1,0.85,8.3,0.3,8.1,-2.2,7.6,-1.1,7.6,0.95,7.3,-3.3,6.6,-0.35,6.5,0.65,6.6,0.2,6.2,-3,5.8,-4.4,5.6,-3,5.3,2,5.5,-1.5,5.3,-1.5,4.8,0.15,4.8,3.1,4.5,-2,4.1,4.6,3.9,0.7,3.9,-0.3,3.6,-2.3,3.4,-1.3,3.4,0.4,3.1,0.7,2.7,4.1,3,-0.5,2.5,2.55,2.5,3.1,2.5,0.4,2,-3.3,2,-2.6,2,-1.9,1.5,-0.7,1.5,3.4,1.1,6,1.1,0.4,1,-1.8,0.7,-2.2,0.3,-0.7,0.3,3.4,0.5,4.5,0,-0.35,0.7,-0.9,1,-0.5,0.1];
const trifC=[-1.4,49.8,0.2,50,1.7,49.6,2.8,49.7,-0.3,49.2,-0.5,48.7,1,49.5,1.1,48.8,1.4,48.9,-4.1,48.4,-3.7,48.5,2.9,48.3,1.8,48.2,-1.1,48,-0.9,47.6,-0.9,47.2,-0.1,47.8,0.7,47.4,1.6,47.3,0,46.9,0.85,46.9,-1.7,46.4,-2,46,1,46.3,-0.1,46,-1.1,45.6,1.7,45.6,2.9,45.4,-0.7,45.1,-1.9,44.9,-0.3,45.2,0.5,44.5,1.4,44.7,1.8,44.4,-0.7,44.2,-1.3,44.2,1.3,44,2.35,44.1,-1.7,43.8,1,43.8,2,43.6,-3.4,43.5,-3,43.3,-4.3,43.2,-1.6,43.4,2.9,43.1,-0.4,42.8,0.65,42.9,2.2,42.7,0.9,42.5,0.3,42.3,-0.8,42,0,42,0.65,42.1,-0.2,41.7,1.2,41.5,2.2,41.3,0.4,41.2,1.2,41,-1.5,41,-0.15,40.7,2.5,40.7,3.4,40.6,2.5,40.3,-3.7,40.5,-1.9,40.4,-2.6,40.1,-2.2,40,0.9,40.2,0.2,39.9,1.7,39.8,3.1,39.6,0.2,39.5,-3.4,39.5,-3.4,39.2,-1.9,39.4,1.2,39.2,-0.8,39,-0.4,38.8,1.6,38.6,3.1,38.7,0.9,38.8,0.7,38.4,-0.1,38.1,1.4,37.9,1,38,-3.4,37.6,-1.6,37.7,-1.6,37.4,3.2,37.5,2.8,37.3,1.7,37.2,-0.5,37.1,2,36.8,-1.1,36.6,-0.5,36.5,-0.1,36.7,-2.2,36.5,-1.9,36.2,2.4,36.3,2.2,36,-1.4,35.9,-0.9,35.5,1.5,35.7,-0.1,35.4,0.6,35.1,0.85,35,-1,34.8,2.15,34.9,1.3,34.6,2.5,34.6,-0.7,34.4,3.7,34.3,2.5,34.2,-0.5,34.1,0.25,34,1.5,33.8,-2,33.7,-0.7,33.6,-1.1,33.4,0.6,33.5,1.6,33.3,-2.4,33.2,-2.4,32.7,-1.7,32.5,0.7,33,2.15,32.8,1.8,32.6,0.6,32.5,1.1,32.4,-0.9,32,-0.15,32,-0.1,31.7,0.8,32,-2.3,31.3,-1.5,31.5,-1.8,31,-0.85,31.1,3.1,31.4,1.6,31.4,-0.7,30.6,-0.2,30.7,0.2,30.9,1.1,30.7,-2.9,30.5,1.55,30.2,2.8,30.1,0.7,29.9,-0.5,29.5,0.05,29.6,-2.95,29.3,-2,29.1,-1.5,28.8,0.65,29.1,-0.2,29,1.95,28.7,1.35,28.5,-0.2,28.5,3.4,28.4,-3,28.2,2.1,28.2,-2.85,27.9,0.45,28.1,-0.1,28,1.4,27.7,1.95,27.6,-2.7,27.4,-1.8,27.3,-0.7,26.9,0.4,27.1,1.6,27,-0.3,26.5,0.7,26.5,1.7,26.2,3.9,25.9,-1.7,26,-1.3,26.3,1,25.9,-0.15,25.7,2.4,25.5,1.6,25.3,0.3,25.2,-1.3,25,-0.6,24.7,0.1,24.9,1.6,25,-3.3,24.3,-3.8,23.8,-2.5,23.7,-0.8,24.5,-0.3,24.6,0.5,24,1.2,23.9,1.7,24.4,2.6,24.2,2.7,23.6,-0.9,23.3,-0.2,23.4,-1.2,23,-0.4,22.9,0.6,22.8,-2,22.5,-0.5,22.6,0,22.2,-0.9,22.3,-0.4,22.1,2.8,21.9,-2.5,21.8,-1.8,21.5,-1.4,21.6,-0.7,21.4,0.6,21.3,2,21.1,3.3,20.6,3.8,20.5,-2.6,21,-1.5,20.6,-1.9,20.7,-1.5,20.1,-2.4,20.3,0.9,20.7,1,20.4,0.4,20.1,-2.9,19.6,-2.1,19.4,-1.6,19.1,2.1,19.9,2.7,19.7,0.8,19.7,0.6,19.4,0,18.9,1.9,18.9,-2.7,18.4,-1.4,18.9,-1.2,18.6,0,18.4,1.4,18.4,1.7,18.1,-2.2,17.7,-1.3,17.6,-0.5,17.4,0.4,17.7,-1.9,17.1,-1.5,17.2,-0.3,17,0.2,16.7,1,16.8,-2.2,16.5,-1.5,16.5,0.7,16.5,1.4,16.1,1.6,15.6,-2.9,15.7,2.9,15.3,4.9,15.4,-4,14.6,-3.4,14.5,-3.7,13.9,1.6,14.4,2.3,14.5,0.1,15,0.1,14.4,0,14,-1.5,14.3,-1.5,13.9,1.5,13.5,0.1,13.3,1.5,13.1,1.3,12.6,-2.2,12.7,-1.8,12.6,-2.3,12.1,-0.5,12.5,0.1,12.2,-0.2,11.8,0.6,11.8,-1.5,11.4,-1.2,11.8,-1.8,10.9,-0.4,11,0.9,11.2,3.2,10.8,-2.6,10,-1.2,9.9,-0.2,10,0.9,10.3,2.3,10.2,-2.1,9.3,-1.8,9.6,3.4,9.5,0.8,9.1,1.3,8.8,-1.9,9,-0.8,9,-0.2,8.5,-0.1,8.1,-1.9,8.5,-0.9,8.2,-1,7.9,1.7,8.2,-2.5,7.7,-0.2,7.8,1.2,7.4,-1.3,7.1,-1.7,6.9,0.4,7.3,0.6,6.8,-2.3,6.1,-2.2,6.5,-0.9,6.6,0,6.9,1.4,6.6,-0.3,5.6,0.4,5.7,2.4,6.2,1.9,5.8,1.6,5.3,1,5.5,-1,5.2,-2.7,4.6,-2.9,4.2,-3,3.9,-1,4.2,1.1,4.8,1.8,4.9,2,4.3,0.7,4.1,3.9,3.9,4.7,4,-2,3.6,-0.7,3.4,1.4,3.6,2.2,3.2,2.2,2.7,-2.1,2.9,-0.6,3,-1.2,2.4,1.2,2.1,1.6,2,-3.5,2,-1,2.3,2.1,1.5,2.2,1.3,3,1.1,-0.8,1.7,-0.6,1.2,-2.7,1,-1.6,0.7,-0.5,0.7,0.4,0.7,1.2,0.5,-0.5,0.2,0.1,0,1.2,0.3];

const mapsD=[3.1,48.2,4.2,49.9,3.5,49.8,2.8,49.6,2.2,48.2,4.7,44.9,2.8,44.2,2.3,43.4,2.8,43.4,1.6,42.4,3.6,43,4,42.8,4.8,42.7,5.2,43,5.1,42,4.1,41.9,3.5,41.6,2.5,41.9,2.3,41.1,1.6,41.1,5.1,41.3,5.6,41.2,2.1,40.4,3.4,40.6,4.2,40.7,4.8,40.3,5.6,40.1,4.9,39.8,2.9,39.8,4.2,39.4,5.2,39.2,3.1,39.3,4.2,38.5,3,38.4,2.2,38.6,6,38.3,5.6,38.1,6.3,37.6,6.65,37.1,5.8,36.8,4.7,37.8,4.3,37.2,3.4,36.8,2.8,37.7,2.2,36.9,3.75,36.1,7.2,36.1,7.1,35.9,7.4,35.4,3.75,35.4,2.7,35.3,5.3,35.1,6.2,34.9,6.65,34.9,6.85,34.3,4.3,34.6,2.6,34.7,1.6,34.6,4.7,33.8,5.6,33.8,5.6,33.5,5.2,32.9,4.1,32.8,3.9,32.3,2.6,32.9,2.4,33.7,1,31.9,2.4,32,3.6,31.4,2.9,31,3.7,30.2,2.65,30.4,2.1,30.1,1.9,30.9,4.9,29.3,4.9,28.2,4.3,27.9,2.6,28.1,3.95,27.5,2.9,27.2,2.4,27.6,5.55,26.3,5.9,26.3,4.5,26.3,6.2,25.5,5.2,24.9,3.6,26.5,2.9,25.4,3.7,25.5,7.7,18.5,6.6,19.7,6.2,21.1,6.2,20.5,6.5,23.2,6.3,23.9,5.3,22.2,5.1,19.2,5.1,20.3,4.1,20.1,4.8,20.9,4.1,21,4.2,21.9,5.1,24.7,5.7,24.4,5,23.9,3.5,23,5.1,18.2,5.1,17.8,4.3,18.7,3,18.8,3.7,18.1,4,17.4,3.7,16.8,4.3,16.1,3.4,15.7,2.7,15.1,6.8,16.4,6,16.5,6.1,15.5,7,15.6,7,15.1,7.7,14.7,4.6,14.7,5.2,14.9,6,14.6,6.2,14.1,6.2,13.6,9,13.8,2.7,13.9,2.4,13.1,3.7,13.1,3.1,12.9,6,12.7,6,12.1,4.6,12.2,3.9,12,5,11.6,6.9,11.8,7,11.2,6.4,10.9,7,10.8,8.6,10.1,8.5,9.2,4.8,10.7,5.4,10.3,4.7,9.9,2.9,10.3,4.4,9.6,3.4,9.4,2.7,9.2,1.75,9,3.3,8.2,4.9,8.6,5.6,8.2,4.1,7.8,3.5,7.6,2.1,7.4,1.2,7.7,7.2,7.8,6.8,7.6,9,7.6,7,7,8.1,7.1,7.6,6.9,3.3,6.7,4.3,6.6,4.8,6.9,5.4,6.3,6.2,6.3,6.9,6,7.8,5.6,8.5,5.2,9.4,5,6,5.3,6.7,5.1,6.3,4.7,7,4.4,8.5,4.4,9.4,4.3,9.8,4.2,4.8,4.5,5.2,4.4,3.3,3.2,4.2,3,5.2,3.3,6.7,2.9,6.4,2.5,9.2,2.9,9.9,2.9,9.6,2.3,8.4,2.4,7.9,2.4,5.2,2.4,6.3,1.6,5.5,1.5,7.3,1.8,7.9,1.4,9,1.5,4.7,1.8,4.1,2,3.3,2.1,2.6,2,2.1,1,2.7,1.5,1.95,1.9,2.3,1.3,2.8,1.6,0.9,1.2,0.4,2.2,-0.9,1.9,-0.35,2.4,-1.9,2.4,-2.3,2,-2.5,1.3,-3.2,0.9,-3.3,1.8,-2.9,3.3,-2.5,4,-3.5,4.5,-4,2.8,-3.8,1.6,-4.5,2.4,0.8,3.2,1.3,4.1,1.7,3.4,1.8,4.4,2.3,4.6,0,3.6,-0.6,3.9,-1.1,3.2,-9,0.2,-3.7,0.1,-3.2,0,-8.6,5.4,-7.3,5.8,-8,5.3,-6.3,5.2,-7.9,4.8,-8.2,4.6,-7.8,4.2,-8.6,3.8,-7.8,3.6,-8.3,3.3,-8.2,2.9,-8.6,2.8,-8.5,1.8,-8.5,1.2,-6.7,2.4,-6.1,2.4,-6.4,1.9,-6.7,1,-5.5,1.5,-5.5,1,-4.8,1.5,-5.7,3.2,-5.2,3.5,-4.7,3.5,-4.6,4.1,-5,3.7,-5.4,5.7,-5.3,6.3,-6.3,6.8,-5.9,7,-5,7.7,-5.4,7.2,-4.6,7.2,-4.6,9.8,-4.9,8.8,-4.6,8.5,-3.8,8.5,-3.9,9,-3.3,8.8,-3.8,10.5,-5.1,11.2,-5.2,11.7,-4.8,12.2,-4.1,12.9,-4.2,13.8,-3.4,14.8,-3.8,15.5,-3.7,16.3,-3.6,17.1,-3.3,17.8,-3.3,18.6,-2.1,49.9,-1.3,50,-0.5,49.9,0.3,50,1.1,49.9,1.9,49.9,-2.3,49,-1.5,49.1,-0.7,49,0.1,49.1,0.9,49,1.8,49.1,-2.1,48.2,-1.3,48.3,-0.5,48.2,0.3,48.3,1.1,48.2,1.9,48.3,-2.2,47.4,-1.4,47.5,-0.6,47.4,0.2,47.5,1,47.4,1.8,47.5,-2.1,46.6,-1.3,46.7,-0.5,46.6,0.3,46.7,1.1,46.6,1.9,46.7,2.3,46.2,-2.2,45.8,-1.4,45.9,-0.6,45.8,0.2,45.9,1,45.8,1.8,45.9,-2.1,45,-1.3,45.1,-0.5,45,0.3,45.1,1.1,45,1.9,45.1,-2.2,44.2,-1.4,44.3,-0.6,44.2,0.2,44.3,1,44.2,1.7,44.3,-2.3,43.4,-1.5,43.5,-0.7,43.4,0.1,43.5,0.9,43.4,-2.8,42.6,-2,42.7,-1.2,42.6,-0.4,42.7,0.4,42.6,1.2,42.7,-2.7,41.8,-1.9,41.9,-1.1,41.8,-0.3,41.9,0.5,41.8,1.2,41.9,-2.8,41,-2,41.1,-1.2,41,-0.4,41.1,0.4,41,1.2,41.1,-2.7,40.2,-1.9,40.3,-1.1,40.2,-0.3,40.3,0.5,40.2,1.3,40.3,-2.8,39.4,-2,39.5,-1.2,39.4,-0.4,39.5,0.4,39.4,1.2,39.5,-2.6,38.6,-1.8,38.7,-1,38.6,-0.2,38.7,0.6,38.6,1.3,38.7,-2.9,37.8,-2.1,37.9,-1.3,37.8,-0.5,37.9,0.3,37.8,1.1,37.9,-2.8,37,-2,37.1,-1.2,37,-0.4,37.1,0.4,37,1.2,37.1,-3,36.2,-2.2,36.3,-1.4,36.2,-0.6,36.3,0.2,36.2,1.1,36.3,-3,35.4,-2.2,35.5,-1.4,35.4,-0.6,35.5,0.2,35.4,1,35.5,1.8,35.5,-3.1,34.6,-2.3,34.7,-1.5,34.6,-0.7,34.7,0.1,34.6,0.9,34.7,-3.3,33.8,-2.5,33.9,-1.7,33.8,-0.9,33.9,-0.1,33.8,0.7,33.9,1.5,33.7,-3.2,33,-2.4,33.1,-1.6,33,-0.8,33.1,0,33,0.8,33.1,-3.4,32.2,-2.6,32.3,-1.8,32.2,-1,32.3,-0.2,32.2,0.5,32.3,-3.3,31.4,-2.5,31.5,-1.7,31.4,-0.9,31.5,-0.1,31.4,0.6,31.5,-3.5,30.6,-2.7,30.7,-1.9,30.6,-1.1,30.7,-0.3,30.6,0.5,30.7,1.4,30.5,-3.3,29.8,-2.5,29.9,-1.7,29.8,-0.9,29.9,-0.1,29.8,0.7,29.9,1.5,29.8,-3.1,29,-2.3,29.1,-1.5,29,-0.7,29.1,0.1,29,0.9,29.1,-3.2,28.2,-2.4,28.3,-1.6,28.2,-0.8,28.3,0,28.2,0.8,28.3,1.6,28.2,-2.9,27.4,-2.1,27.5,-1.3,27.4,-0.5,27.5,0.3,27.4,1.1,27.5,-3.3,26.6,-2.5,26.7,-1.7,26.6,-0.9,26.7,-0.1,26.6,0.7,26.7,1.5,26.6,-3.2,25.8,-2.4,25.9,-1.6,25.8,-0.8,25.9,0,25.8,0.8,25.9,1.6,25.8,-3.5,25,-2.7,25.1,-1.9,25,-1.1,25.1,-0.3,25,0.5,25.1,1.3,25,2.1,25.1,-3.3,24.2,-2.5,24.3,-1.7,24.2,-0.9,24.3,-0.1,24.2,0.7,24.3,1.5,24.2,-3.6,23.4,-2.8,23.5,-2,23.4,-1.2,23.5,-0.4,23.4,0.4,23.5,1.2,23.4,2,23.5,-3.5,22.6,-2.7,22.7,-1.9,22.6,-1.1,22.7,-0.3,22.6,0.5,22.7,1.3,22.6,2.1,22.7,-3.6,21.8,-2.8,21.9,-2,21.8,-1.2,21.9,-0.4,21.8,0.4,21.9,1.2,21.8,2,21.9,-3.5,21,-2.7,21.1,-1.9,21,-1.1,21.1,-0.3,21,0.5,21.1,1.3,21,2.1,21.1,-3.4,20.2,-2.6,20.3,-1.8,20.2,-1,20.3,-0.2,20.2,0.6,20.3,1.4,20.2,-3.5,19.4,-2.7,19.5,-1.9,19.4,-1.1,19.5,-0.3,19.4,0.5,19.5,1.3,19.4,2.1,19.5,-3.2,18.6,-2.4,18.7,-1.6,18.6,-0.8,18.7,0,18.6,0.8,18.7,1.6,18.6,-3.4,17.8,-2.6,17.9,-1.8,17.8,-1,17.9,-0.2,17.8,0.6,17.9,1.4,17.8,-3.3,17,-2.5,17.1,-1.7,17,-0.9,17.1,-0.1,17,0.7,17.1,1.5,17,-3.5,16.2,-2.7,16.3,-1.9,16.2,-1.1,16.3,-0.3,16.2,0.5,16.3,1.3,16.2,-3.3,15.4,-2.5,15.5,-1.7,15.4,-0.9,15.5,-0.1,15.4,0.7,15.5,1.2,14.8,-3.2,14.6,-2.4,14.7,-1.6,14.6,-0.8,14.7,0,14.6,-3.4,13.8,-2.6,13.9,-1.8,13.8,-1,13.9,-0.2,13.8,0.9,14.1,-3.2,13,-2.4,13.1,-1.6,13,-0.8,13.1,-0.1,13,1,13.3,-3.1,12.2,-2.3,12.3,-1.5,12.2,-0.7,12.3,0.9,12.5,-3.3,11.4,-2.5,11.5,-1.7,11.4,-0.9,11.5,-0.2,11.4,0.8,11.7,-3.2,10.6,-2.4,10.7,-1.6,10.6,-0.8,10.7,0,10.6,-3,9.8,-2.2,9.9,-1.4,9.8,-0.6,9.9,0.1,9.8,-2.9,9,-2.1,9.1,-1.3,9,-0.5,9.1,0.2,9,-2.6,8.2,-1.8,8.3,-1,8.2,-0.2,8.3,0.6,8.2,-3.2,7.4,-2.4,7.5,-1.6,7.4,-0.8,7.5,0,7.4,-3.4,6.6,-2.6,6.7,-1.8,6.6,-1,6.7,-0.2,6.6,0.6,6.7,-2.9,5.8,-2.1,5.9,-1.3,5.8,-0.5,5.9,0.3,5.8,1,5.6,-2.5,5,-1.7,5.1,-0.9,5,-0.1,5.1,0.7,5.2,-2.9,4.6,-1.5,4.3,-0.7,4.4,1,5.1];
const trifD=[-3.9,49.8,-1.6,49.9,-0.85,50,-0.45,49.6,3,49.7,0.3,49.3,1,49.3,1.4,49.5,2,49.1,2.6,49,1.9,48.7,-1.5,48.8,-0.45,48.7,0.6,48.6,-2,48,-1,48.1,-0.65,48.3,-0.2,48.4,-1.1,47.8,0.4,47.8,0.05,47.6,-1.5,47.3,1.3,47.4,1,47.2,-3.5,47.2,-0.8,46.9,-0.05,47,2.6,46.6,3.3,46.7,1,46.5,4.9,46.4,-3.3,46.3,-3.2,46,0.45,46.2,1.6,46.1,5.5,46,3,45.8,-5.3,45.8,-4.45,45.6,1.2,45.6,1.6,45.2,-2.7,45.3,-4.8,45.1,-3.1,45,-2.2,44.6,-1.5,44.3,-1.1,44.7,-0.2,44.8,-0.8,44.2,0,44.3,0.3,44,-2.6,44,-0.8,43.7,0.45,43.6,3.6,43.8,5.3,43.9,5.2,43.4,-2.1,43.2,0.05,43.1,1.3,42.8,2.2,42.9,5.7,42.7,-2.6,42.5,5,42.4,-8.3,42.3,-3.05,42.2,3.6,42.1,-0.6,42,3,41.9,1.3,41.8,1.95,41.6,-0.8,41.3,-1.2,41.5,-2.1,41.4,-2.5,41.1,3,41.2,-5.5,41,0.05,40.8,4.1,40.7,-1.9,40.6,-0.4,40.3,-7.15,40.1,-2.3,40.2,-1.4,40,-2.8,39.8,0.15,39.8,-4.7,39.7,2.75,39.5,-1.7,39.4,2.1,39.3,0.45,39.2,-1.4,39.1,2.75,39,3.7,38.9,4.7,38.8,-0.7,38.7,0.45,38.6,-2.6,38.5,4.3,38.4,-3.2,38.3,-3.7,38,1.2,38.1,0,38.2,-4.8,37.9,0.05,37.8,-5.3,37.6,4,37.7,2,37.5,3.7,37.3,1.25,37.3,0.7,37.2,3.7,37,-1.25,36.9,1.5,36.7,-2.4,36.6,8.35,36.5,5,36.4,-5,36.3,-1.6,36.2,0.3,36,0.65,35.9,1.15,36,-3.4,35.8,-1.45,35.7,1.1,35.5,2.15,35.5,-4.8,35.2,5.7,35.3,-0.8,35,3.25,35,5,34.9,3.25,34.7,-2,34.7,-0.1,34.5,0.8,34.6,-1,34.3,4.1,34.5,-4.5,34.1,-5.8,34,3.1,34.2,4,33.9,2.75,33.8,-2.2,33.7,-0.9,33.6,0.4,33.5,4.7,33.4,1.4,33.3,-1.6,33.2,2,33.1,-2.4,32.9,-0.15,32.8,-1,32.7,-5,32.6,-2.2,32.5,1.7,32.3,3.4,32.3,2,32.2,-4.2,31.9,3.5,31.8,-1.6,31.7,-3.85,31.6,-1.1,31.5,-4.8,31.4,0.3,31.2,1.05,31.2,-0.6,31.1,-4.2,31,1.1,30.8,-0.6,30.7,0,30.7,1,30.5,3.1,30.5,-2.2,30.3,-5.1,30.2,2,30,6.5,30.1,-6.4,29.9,-1.4,29.8,-0.7,29.7,-3.3,29.6,1.1,29.4,1.7,29.5,-4.2,29.2,-5.6,29.1,-2.2,29,-1.9,28.7,1.4,28.8,3.1,28.9,2.5,28.6,3.5,28.4,1.6,28.5,-2.35,28.2,0.7,28.3,-1,28,0.05,27.8,-1.9,27.7,3.5,27.6,0.65,27.5,-5.4,27.3,-4.9,27.2,-0.4,27.3,-0.4,27,1.15,27.1,1.7,26.9,-6.5,26.8,3,26.7,-1.05,26.6,-0.2,26.5,4.25,26.4,5.1,26.3,-1.8,26.2,-7.4,26.1,-1.6,25.9,2.2,25.9,0.3,25.7,0.3,25.5,3.65,25.5,-4.2,25.4,1,25.3,2,25.2,-3.45,25.1,-0.1,25,4.2,24.3,-9.4,23.6,-9.5,22.9,-6.9,22.7,-4.2,23.8,-2.5,23.7,-2.4,24.6,-1.9,24.4,-0.85,24.5,0.6,24.7,1.95,24.8,0.95,24,2.5,23.9,0,23.4,-0.5,23.4,-1.9,22.9,2.4,23.3,2.9,23.1,3.5,22.5,5.9,22.6,-1.1,22.4,-2.8,22.2,-2.2,22.1,-1.6,22.3,-2,21.8,-1.1,21.6,2.6,22,2.7,21.7,3.5,21.9,0.9,21.5,1.15,21.3,2.1,21.2,3.9,21.4,-4.8,21.1,4.4,21,0,20.9,-1.5,20.7,-1.15,20.7,5.1,20.6,-2.9,20.5,0.2,20.3,0.6,20.4,1.5,20.2,-3.25,20.1,5.7,20,2.35,19.9,0.9,19.8,-2.6,19.5,-1.6,19.5,-4,19.3,1.2,19.3,-0.5,19.1,-0.95,19,4.6,18.9,2.15,18.8,1.6,18.7,3.65,18.6,0.55,18.5,3.6,18.4,-0.7,18.4,-5.1,18.2,-0.9,18.1,-4.6,18,-3.9,17.9,0.1,17.8,-0.75,17.7,0.85,17.6,-1.35,17.5,1.7,17.3,-1.35,17.2,-6,17.1,6.15,17,2.7,16.9,-4.75,16.8,-7.7,16.7,6.3,16.5,2,16.5,-2.6,16.3,2.75,16.2,5.35,16.1,0.75,15.9,0.2,16,-2.25,15.8,-1.3,15.7,0.2,15.6,-3.1,15.5,2.1,15.4,3.4,15.3,-0.9,15.2,-0.5,15,-2.45,14.9,8.8,14.8,2.9,14.7,-0.5,14.6,3.4,14.5,-3.85,14.4,3.85,14.2,4.8,14.3,-3.15,14,0.35,13.9,1.5,13.8,-0.5,13.7,3.6,13.6,-2.45,13.5,1.55,13.5,1,13.3,-1.8,13.2,-6.1,13.1,1.55,13,-3.85,12.9,7.5,12.8,-6.9,12.6,5.7,12.7,2.1,12.5,-4.6,12.4,-1.3,12.3,1.1,12.2,-2.5,12.1,-2.1,12,1.9,11.9,0.75,11.7,1.4,11.6,2.1,11.5,-2.7,11.4,-0.2,11.3,0.5,11,2.9,11.1,-0.2,10.9,2.2,10.8,-1.1,10.7,-1.35,10.6,-0.2,10.6,-2.65,10.4,-3.05,10.3,4.1,10.2,-3.25,10,1.6,9.9,2.15,9.7,2.7,9.8,-1.4,9.6,6.45,9.5,-6.8,9.4,-0.3,9.3,-2.75,9.2,0.1,9,0.45,9.2,1,8.9,-0.6,8.6,0.55,8.5,-3.15,8.4,-2,8.3,-4.1,8.1,5,8,1.6,7.9,2.3,7.7,-0.75,7.6,-5.45,7.4,-2.75,7.3,-0.7,7.1,0.3,7.2,1.35,7,-2.3,6.9,-1.35,6.8,-3.65,6.7,0.15,6.6,-1.35,6.5,1.35,6.4,0.8,6.3,2.05,6.2,5,6.1,-1.35,6,-3.5,5.8,1.6,5.7,-4.15,5.6,-0.9,5.5,3.05,5.4,0.9,5.3,1.8,5.2,4.15,5.1,-0.6,5,1.1,4.9,-2.65,4.8,0.25,4.6,-1.1,4.5,-1.65,4.3,-3.5,4.2,-5.65,4.1,4,4,-0.7,3.9,3.7,3.8,0.6,3.7,4.8,3.6,2.15,3.5,-0.4,3.4,-1.2,3.3,-4.05,3.1,1.5,3,-0.5,2.9,1.95,2.8,5.2,2.7,-6.5,2.6,-5.2,2.5,-4.75,2.3,1.2,2.4,7.1,2.1,7.9,2.2,-3.8,2,-1.6,1.8,-0.25,1.8,0.7,1.6,0,1.5,-2.45,1.3,-3.75,1.3,-0.05,1.2,3.15,1,4.5,0.9,-6.8,0.7,2.55,0.6,-2.1,0.5,2.1,0.4,-2.4,0.3,3.55,0.2,1.95,0.15];

const plotW=634, plotTop=184, plotBottom=2103;
const panelNames=["a","b","c","d"];
const panelLefts=[231,1076,1921,2766];
const mapsSeries=[mapsA,mapsB,mapsC,mapsD];
const trifSeries=[trifA,trifB,trifC,trifD];
const NS="http://www.w3.org/2000/svg";
const root=document.getElementById("plots");
const yPos=a=>plotBottom-(a/50)*(plotBottom-plotTop);
function xPos(left,v){return left+((v+10)/20)*plotW;}
function make(tag,attrs,parent){
  const el=document.createElementNS(NS,tag);
  for(const k in attrs){el.setAttribute(k,attrs[k]);}
  parent.appendChild(el);
  return el;
}
panelNames.forEach(function(name,p){
  const left=panelLefts[p], right=left+plotW;
  const g=make("g",{},root);
  
  
  const frame=make("rect",{x:left,y:plotTop,width:plotW,height:plotBottom-plotTop,fill:"none",stroke:"#262626","stroke-width":8},g);
  
  
  yTickValues.forEach(function(v,i){
    const y=yPos(v);
    const t1=make("line",{x1:left,x2:left+25,y1:y,y2:y,stroke:"#262626","stroke-width":7},g);
    
    
    const t2=make("line",{x1:right-25,x2:right,y1:y,y2:y,stroke:"#262626","stroke-width":7},g);
    
    
    const lab=make("text",{x:left-23,y:y+28,"font-size":76,fill:"#262626","text-anchor":"end"},g);
    lab.textContent=yTickLabels[i];
    
    
  });
  xTickValues.forEach(function(v,i){
    const x=xPos(left,v);
    const t1=make("line",{x1:x,x2:x,y1:plotBottom,y2:plotBottom-25,stroke:"#262626","stroke-width":7},g);
    
    
    const t2=make("line",{x1:x,x2:x,y1:plotTop,y2:plotTop+25,stroke:"#262626","stroke-width":7},g);
    
    
    const lab=make("text",{x:x-2,y:2201,"font-size":76,fill:"#262626","text-anchor":"middle"},g);
    lab.textContent=xTickLabels[i];
    
    
  });
});
panelNames.forEach(function(name,p){
  const left=panelLefts[p];
  const mg=make("g",{fill:"#000"},root);
  
  
  const maps=mapsSeries[p];
  for(let i=0;i<maps.length;i+=2){
    const c=make("circle",{cx:xPos(left,maps[i]),cy:yPos(maps[i+1]),r:16.5},mg);
    
    
  }
});
panelNames.forEach(function(name,p){
  const left=panelLefts[p];
  const tg=make("g",{stroke:"#f00","stroke-width":8,fill:"none"},root);
  
  
  const trif=trifSeries[p];
  for(let i=0;i<trif.length;i+=2){
    const x=xPos(left,trif[i]), y=yPos(trif[i+1]);
    const m=make("path",{d:"M"+(x-8.5)+","+(y-8.5)+"L"+(x+8.5)+","+(y+8.5)+"M"+(x-8.5)+","+(y+8.5)+"L"+(x+8.5)+","+(y-8.5)},tg);
    
    
  }
});
</script>
</body>
</html>
